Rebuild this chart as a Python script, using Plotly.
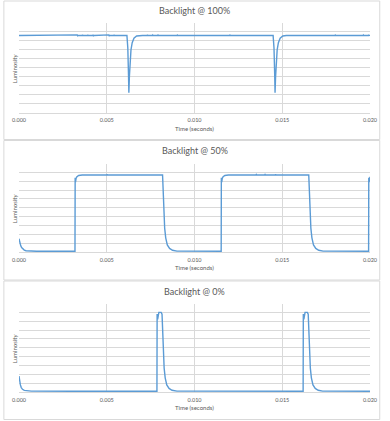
import plotly.graph_objects as go
from plotly.subplots import make_subplots

# ---------------- data (time in seconds, relative luminosity) ----------------
titles = ["Backlight @ 100%", "Backlight @ 50%", "Backlight @ 0%"]
x_ticks = [0.0, 0.005, 0.010, 0.015, 0.020]

pts_100 = [
    (0.0000, 0.860), (0.00100, 0.860), (0.00102, 0.866), (0.00104, 0.860), (0.00210, 0.860),
    (0.00212, 0.866), (0.00214, 0.860), (0.00270, 0.860), (0.00272, 0.867), (0.00274, 0.860),
    (0.00300, 0.860), (0.00302, 0.868), (0.00304, 0.860), (0.00330, 0.860), (0.00332, 0.867),
    (0.00334, 0.858), (0.00336, 0.860), (0.00360, 0.860), (0.00362, 0.868), (0.00364, 0.860),
    (0.00390, 0.860), (0.00392, 0.867), (0.00394, 0.860), (0.00420, 0.860), (0.00422, 0.868),
    (0.00424, 0.858), (0.00426, 0.860), (0.00450, 0.860), (0.00452, 0.867), (0.00454, 0.860),
    (0.00480, 0.860), (0.00482, 0.868), (0.00484, 0.860), (0.00510, 0.860), (0.00512, 0.867),
    (0.00514, 0.858), (0.00516, 0.860), (0.00540, 0.860), (0.00542, 0.867), (0.00544, 0.860),
    (0.00615, 0.860),
    (0.00620, 0.720), (0.00624, 0.420), (0.00626, 0.220), (0.00629, 0.400), (0.00633, 0.580),
    (0.00638, 0.700), (0.00645, 0.780), (0.00655, 0.830), (0.00670, 0.855), (0.00690, 0.860),
    (0.00700, 0.860), (0.00702, 0.867), (0.00704, 0.860), (0.00730, 0.860), (0.00732, 0.867),
    (0.00734, 0.860), (0.00760, 0.860), (0.00762, 0.866), (0.00764, 0.860), (0.00790, 0.860),
    (0.00792, 0.866), (0.00794, 0.860), (0.00900, 0.860), (0.00902, 0.865), (0.00904, 0.860),
    (0.01200, 0.860), (0.01202, 0.865), (0.01204, 0.860), (0.01448, 0.860),
    (0.01453, 0.720), (0.01457, 0.420), (0.01459, 0.220), (0.01462, 0.400), (0.01466, 0.580),
    (0.01471, 0.700), (0.01478, 0.780), (0.01488, 0.830), (0.01503, 0.855), (0.01523, 0.860),
    (0.01800, 0.860), (0.01802, 0.865), (0.01804, 0.860), (0.01960, 0.860), (0.01962, 0.866),
    (0.01964, 0.860), (0.01990, 0.860), (0.01992, 0.867), (0.01994, 0.860), (0.02000, 0.862),
]

pts_50 = [
    (0.0000, 0.150), (0.00005, 0.100), (0.00010, 0.070), (0.00015, 0.050), (0.00022, 0.035),
    (0.00030, 0.022), (0.00040, 0.014), (0.00060, 0.010), (0.0010, 0.008), (0.00319, 0.008),
    (0.00320, 0.840), (0.00322, 0.790), (0.00325, 0.830), (0.00330, 0.850), (0.00340, 0.865),
    (0.00360, 0.870), (0.00500, 0.870), (0.00502, 0.877), (0.00504, 0.870), (0.00818, 0.870),
    (0.00822, 0.600), (0.00826, 0.400), (0.00830, 0.270), (0.00836, 0.160), (0.00845, 0.080),
    (0.00858, 0.040), (0.00875, 0.020), (0.00900, 0.010), (0.0100, 0.008), (0.01152, 0.008),
    (0.01153, 0.840), (0.01155, 0.790), (0.01158, 0.830), (0.01163, 0.850), (0.01173, 0.865),
    (0.01193, 0.870), (0.01350, 0.870), (0.01352, 0.876), (0.01354, 0.870), (0.01400, 0.870),
    (0.01402, 0.876), (0.01404, 0.870), (0.01460, 0.870), (0.01462, 0.877), (0.01464, 0.870),
    (0.01651, 0.870),
    (0.01655, 0.600), (0.01659, 0.400), (0.01663, 0.270), (0.01669, 0.160), (0.01678, 0.080),
    (0.01691, 0.040), (0.01708, 0.020), (0.01733, 0.010), (0.0180, 0.008), (0.01992, 0.008),
    (0.01993, 0.840), (0.01995, 0.790), (0.01998, 0.830), (0.0200, 0.850),
]

pts_0 = [
    (0.0000, 0.180), (0.00004, 0.120), (0.00008, 0.080), (0.00013, 0.050), (0.00020, 0.030),
    (0.00030, 0.018), (0.00045, 0.012), (0.00070, 0.010), (0.0030, 0.008), (0.0060, 0.008),
    (0.00786, 0.008), (0.00787, 0.880), (0.00790, 0.820), (0.00797, 0.900), (0.00810, 0.900),
    (0.00815, 0.880), (0.00819, 0.600), (0.00823, 0.400), (0.00827, 0.270), (0.00833, 0.160),
    (0.00842, 0.080), (0.00855, 0.040), (0.00872, 0.020), (0.00900, 0.010), (0.0120, 0.008),
    (0.01619, 0.008), (0.01620, 0.880), (0.01623, 0.820), (0.01630, 0.900), (0.01643, 0.900),
    (0.01648, 0.880), (0.01652, 0.600), (0.01656, 0.400), (0.01660, 0.270), (0.01666, 0.160),
    (0.01675, 0.080), (0.01688, 0.040), (0.01705, 0.020), (0.01730, 0.010), (0.0200, 0.008),
]

series = [pts_100, pts_50, pts_0]

# ---------------- layout geometry (pixels) ----------------
FW, FH = 390, 421
L, R, T, B = 17, 13, 23, 29
W = FW - L - R
HP = FH - T - B
plot_px = [(23, 112.5), (163.5, 252), (303.5, 392)]      # top, bottom of each plot area
panel_px = [(1, 139.5), (140.5, 280), (281, 419.5)]       # chart borders
title_y = [10.7, 150.7, 291.7]


def px_x(px):
    return (px - L) / W


def px_y(py):
    return (FH - B - py) / HP


LINE = "#5B9BD5"
GRID = "#D9D9D9"
TXT = "#595959"
FONT = "Lato"

fig = make_subplots(rows=3, cols=1)

for i, pts in enumerate(series):
    t = [p[0] for p in pts]
    v = [p[1] for p in pts]
    fig.add_trace(go.Scatter(x=t, y=v, mode="lines", line=dict(color=LINE, width=1.4),
                             showlegend=False, hoverinfo="skip"), row=i + 1, col=1)

annotations = []
shapes = []
for i in range(3):
    top, bot = plot_px[i]
    n = "" if i == 0 else str(i + 1)
    fig.layout["xaxis" + n].update(
        domain=[0, 1], range=[0, 0.020], tickvals=x_ticks, tickformat=".3f",
        showgrid=True, gridcolor=GRID, gridwidth=1, zeroline=False,
        showline=True, linecolor=GRID, linewidth=1,
        ticks="outside", ticklen=2, tickcolor="rgba(0,0,0,0)",
        tickfont=dict(family=FONT, size=5.5, color=TXT),
    )
    fig.layout["yaxis" + n].update(
        domain=[px_y(bot), px_y(top)], range=[0, 1], dtick=0.1,
        showgrid=True, gridcolor=GRID, gridwidth=1, zeroline=False,
        showticklabels=False, showline=False,
    )
    annotations.append(dict(text=titles[i], xref="paper", yref="paper", x=0.5,
                            y=px_y(title_y[i]), xanchor="center", yanchor="middle",
                            showarrow=False, font=dict(family=FONT, size=9, color=TXT)))
    annotations.append(dict(text="Time (seconds)", xref="paper", yref="paper", x=0.5,
                            y=px_y(bot + 15.8), xanchor="center", yanchor="middle",
                            showarrow=False, font=dict(family=FONT, size=6, color=TXT)))
    annotations.append(dict(text="Luminosity", xref="paper", yref="paper", x=px_x(12.3),
                            y=px_y((top + bot) / 2), xanchor="center", yanchor="middle",
                            textangle=-90, showarrow=False,
                            font=dict(family=FONT, size=6, color=TXT)))
    p_top, p_bot = panel_px[i]
    shapes.append(dict(type="rect", xref="paper", yref="paper",
                       x0=px_x(1.5), x1=px_x(387), y0=px_y(p_bot), y1=px_y(p_top),
                       line=dict(color=GRID, width=1), fillcolor="rgba(0,0,0,0)", layer="below"))

fig.update_layout(
    width=FW, height=FH, margin=dict(l=L, r=R, t=T, b=B),
    paper_bgcolor="white", plot_bgcolor="white",
    annotations=annotations, shapes=shapes, showlegend=False,
)

fig.write_html("out.html", config={"displayModeBar": False},
               post_script="document.body.style.margin='0px';document.body.style.overflow='hidden';")
